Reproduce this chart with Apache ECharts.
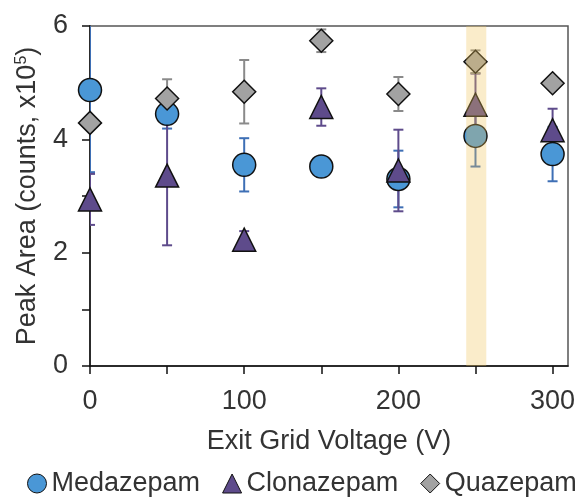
<!DOCTYPE html>
<html>
<head>
<meta charset="utf-8">
<script src="https://cdn.jsdelivr.net/npm/echarts@6/dist/echarts.min.js"></script>
<style>
  html, body { margin: 0; padding: 0; background: #fff; }
  #chart { width: 579px; height: 497px; }
</style>
</head>
<body>
<div id="chart"></div>
<script>
// exit grid voltage (V)
var voltages = [0, 50, 100, 150, 200, 250, 300];

// peak area, x10^5 counts, with error bars
var medazepam = [4.87, 4.45, 3.55, 3.52, 3.30, 4.06, 3.74];
var medazepamErr = [1.45, 0.26, 0.47, 0.05, 0.50, 0.54, 0.48];
var clonazepam = [2.94, 3.36, 2.23, 4.57, 3.45, 4.61, 4.16];
var clonazepamErr = [0.45, 1.23, 0.15, 0.33, 0.72, 0.55, 0.38];
var quazepam = [4.29, 4.72, 4.84, 5.74, 4.80, 5.37, 4.99];
var quazepamErr = [0.10, 0.34, 0.56, 0.20, 0.30, 0.20, 0.08];

var xTicks = [0, 50, 100, 150, 200, 250, 300];
var xLabels = [0, 100, 200, 300];
var bandRange = [244, 257]; // highlighted voltage

var FONT = 'Liberation Sans';
var myChart = echarts.init(document.getElementById('chart'));

function points(vals) {
  return voltages.map(function (v, i) { return [v, vals[i]]; });
}

function errData(vals, errs) {
  return voltages.map(function (v, i) { return [v, vals[i] - errs[i], vals[i] + errs[i]]; });
}

function errSeries(name, vals, errs, color) {
  return {
    name: name,
    type: 'custom',
    clip: true,
    z: 1,
    silent: true,
    data: errData(vals, errs),
    renderItem: function (params, api) {
      var lo = api.coord([api.value(0), api.value(1)]);
      var hi = api.coord([api.value(0), api.value(2)]);
      var w = 5;
      var st = { stroke: color, lineWidth: 2 };
      return {
        type: 'group',
        children: [
          { type: 'line', shape: { x1: lo[0], y1: lo[1], x2: hi[0], y2: hi[1] }, style: st },
          { type: 'line', shape: { x1: lo[0] - w, y1: lo[1], x2: lo[0] + w, y2: lo[1] }, style: st },
          { type: 'line', shape: { x1: hi[0] - w, y1: hi[1], x2: hi[0] + w, y2: hi[1] }, style: st }
        ]
      };
    }
  };
}

function markSeries(name, vals, symbol, size, color) {
  return {
    name: name,
    type: 'scatter',
    z: 2,
    symbol: symbol,
    symbolSize: size,
    data: points(vals),
    itemStyle: { color: color, borderColor: '#111', borderWidth: 1.5, opacity: 1 }
  };
}

var option = {
  animation: false,
  backgroundColor: '#fff',
  textStyle: { fontFamily: FONT },
  grid: {
    left: 90, right: 11, top: 26, bottom: 131,
    show: true, borderColor: '#555', borderWidth: 1.5
  },
  legend: {
    bottom: 0,
    left: 27,
    width: 570,
    padding: 0,
    itemWidth: 19,
    itemHeight: 19,
    itemGap: 22,
    textStyle: { fontSize: 27, color: '#333', fontFamily: FONT },
    data: [
      { name: 'Medazepam', icon: 'circle', itemStyle: { color: '#4a97d6', borderColor: '#111', borderWidth: 1 } },
      { name: 'Clonazepam', icon: 'triangle', itemStyle: { color: '#5e4b8b', borderColor: '#111', borderWidth: 1 } },
      { name: 'Quazepam', icon: 'diamond', itemStyle: { color: '#a2a2a2', borderColor: '#111', borderWidth: 1 } }
    ]
  },
  xAxis: {
    type: 'value',
    min: 0,
    max: 310,
    interval: 50,
    name: 'Exit Grid Voltage (V)',
    nameLocation: 'middle',
    nameGap: 62,
    nameTextStyle: { fontSize: 27, color: '#333', fontFamily: FONT },
    axisLine: { show: true, lineStyle: { color: '#111', width: 1.5 } },
    axisTick: { show: true, length: 8, inside: false, customValues: xTicks, lineStyle: { color: '#111', width: 1.5 } },
    axisLabel: { fontSize: 27, color: '#333', margin: 22, customValues: xLabels },
    splitLine: { show: false }
  },
  yAxis: {
    type: 'value',
    min: 0,
    max: 6,
    interval: 1,
    name: 'Peak Area (counts, x10{sup|5})',
    nameLocation: 'middle',
    nameGap: 48,
    nameTextStyle: {
      fontSize: 27, color: '#333', fontFamily: FONT,
      rich: { sup: { fontSize: 16, verticalAlign: 'top', padding: [0, 0, 12, 0], color: '#333', fontFamily: FONT } }
    },
    axisLine: { show: true, lineStyle: { color: '#111', width: 1.5 } },
    axisTick: { show: true, length: 8, lineStyle: { color: '#111', width: 1.5 } },
    axisLabel: {
      fontSize: 27, color: '#333', margin: 22,
      formatter: function (v) { return v % 2 === 0 ? String(v) : ''; }
    },
    splitLine: { show: false }
  },
  series: [
    errSeries('medErr', medazepam, medazepamErr, '#3e6fb5'),
    errSeries('cloErr', clonazepam, clonazepamErr, '#5e4b8b'),
    errSeries('quaErr', quazepam, quazepamErr, '#8a8a8a'),
    markSeries('Medazepam', medazepam, 'circle', 23, '#4a97d6'),
    markSeries('Clonazepam', clonazepam, 'triangle', 23, '#5e4b8b'),
    markSeries('Quazepam', quazepam, 'diamond', 23, '#a2a2a2'),
    {
      // translucent highlight band drawn over the markers
      name: 'band',
      type: 'custom',
      z: 10,
      silent: true,
      clip: true,
      data: [[bandRange[0], bandRange[1]]],
      renderItem: function (params, api) {
        var a = api.coord([api.value(0), 6]);
        var b = api.coord([api.value(1), 0]);
        return {
          type: 'rect',
          shape: { x: a[0], y: a[1], width: b[0] - a[0], height: b[1] - a[1] },
          style: { fill: 'rgba(240,195,90,0.32)' }
        };
      }
    }
  ]
};

myChart.setOption(option);
</script>
</body>
</html>
